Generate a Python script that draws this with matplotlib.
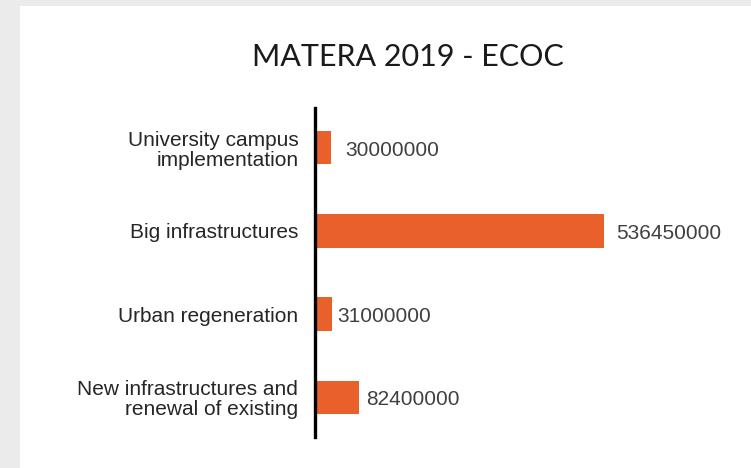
import matplotlib
matplotlib.use("Agg")
import matplotlib.pyplot as plt
from matplotlib.patches import Rectangle

# chart data
categories = [
    "University campus\nimplementation",
    "Big infrastructures",
    "Urban regeneration",
    "New infrastructures and\nrenewal of existing",
]
values = [30000000, 536450000, 31000000, 82400000]
title = "MATERA 2019 - ECOC"

BAR_COLOR = "#e9602b"
LABEL_PADS = [10, 9, 4, 5]  # points between bar end and value label (as in the original)
plt.rcParams["font.family"] = ["Liberation Sans", "DejaVu Sans"]

fig = plt.figure(figsize=(7.51, 4.68), dpi=100, facecolor="#ebebeb")
# white card behind everything
fig.patches.append(Rectangle((20 / 751, 0), 1, 1 - 6 / 468, transform=fig.transFigure,
                             facecolor="white", edgecolor="none", zorder=-10))

ax = fig.add_axes([315 / 751, 31 / 468, 0.95 - 315 / 751, (437 - 108) / 468])
ax.set_facecolor("none")
ax.set_zorder(5)

ypos = list(range(len(categories)))
ax.barh(ypos, values, height=0.4, color=BAR_COLOR)
ax.set_ylim(len(categories) - 0.52, -0.48)
ax.set_xlim(0, 536450000 * (ax.get_position().width * 751) / 289)

for y, v, pad in zip(ypos, values, LABEL_PADS):
    ax.annotate(f"{v}", (v, y), xytext=(pad, -2), textcoords="offset points",
                va="center", ha="left", fontsize=15, color="#404040")

ax.set_yticks(ypos)
ax.set_yticklabels(categories, fontsize=15, color="#262626", ha="right", linespacing=1.08)
ax.tick_params(axis="y", length=0, pad=12)
ax.set_xticks([])
for s in ["top", "right", "bottom"]:
    ax.spines[s].set_visible(False)
ax.spines["left"].set_linewidth(2.4)
ax.spines["left"].set_color("black")

fig.text(408 / 751, 1 - 57 / 468, title, ha="center", va="center",
         fontsize=22, color="#1a1a1a", family=["Lato", "DejaVu Sans"], zorder=6)

fig.savefig("out.png", dpi=100, facecolor=fig.get_facecolor())
